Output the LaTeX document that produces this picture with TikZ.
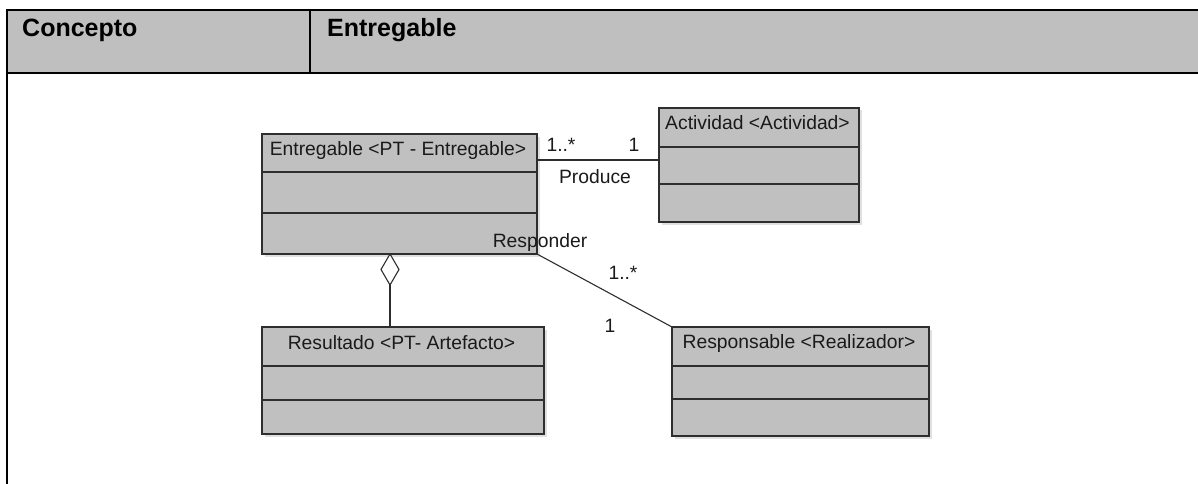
\documentclass[tikz,border=0pt]{standalone}
\usepackage{fontspec}
\setmainfont{Liberation Sans}
\usetikzlibrary{shapes.geometric,calc}

\definecolor{hdrgray}{HTML}{BFBFBF}
\definecolor{boxgray}{HTML}{C0C0C0}
\definecolor{edge}{HTML}{2E2E2E}
\definecolor{ink}{HTML}{1A1A1A}

\tikzset{
  tableline/.style={line width=2pt, black},
  classbox/.style={draw=edge, fill=boxgray, line width=1.3pt, inner sep=0pt, outer sep=0pt,
    anchor=north west},
  boxshadow/.style={fill=black!12, draw=none},
  sepline/.style={draw=edge, line width=1.3pt},
  classtitle/.style={font=\fontsize{19.3}{22}\selectfont, text=ink, inner sep=0pt, anchor=base},
  assoc/.style={draw=edge, line width=1.1pt},
  multlabel/.style={font=\fontsize{19.3}{22}\selectfont, text=ink, inner sep=0pt, anchor=base},
  headtext/.style={font=\fontsize{25}{29}\selectfont\bfseries, text=black, inner sep=0pt, anchor=base west},
  aggdiamond/.style={diamond, draw=edge, fill=white, line width=1.1pt, inner sep=0pt, outer sep=0pt,
    minimum width=18pt, minimum height=31pt, anchor=north},
}

% #1 name, #2 x, #3 y (top-left), #4 width, #5 height,
% #6 first divider offset, #7 second divider offset, #8 title, #9 title baseline offset
\newcommand\classbox[9]{%
  \fill[boxshadow] (#2+2.5,#3+2.5) rectangle (#2+#4+2.5,#3+#5+2.5);
  \node[classbox, minimum width=#4pt, minimum height=#5pt] (#1) at (#2,#3) {};
  \draw[sepline] ([yshift=-#6pt]#1.north west) -- ([yshift=-#6pt]#1.north east);
  \draw[sepline] ([yshift=-#7pt]#1.north west) -- ([yshift=-#7pt]#1.north east);
  \node[classtitle] (#1-title) at ([xshift=-1.5pt,yshift=-#9pt]#1.north) {#8};
}

\begin{document}
\begin{tikzpicture}[x=1pt,y=-1pt]
  \useasboundingbox (0,0) rectangle (1198,484);

  % table header row
  \fill[hdrgray] (7,10) rectangle (1200,73);
  \draw[tableline] (7,486) -- (7,10) -- (1200,10);
  \draw[tableline] (7,73) -- (1200,73);
  \draw[tableline] (310,10) -- (310,73);
  \node[headtext] (hdr-a) at (22,37) {Concepto};
  \node[headtext] (hdr-b) at (327,37) {Entregable};

  % classes
  \classbox{ent}{262}{134}{275}{120}{38}{79}{Entregable <PT - Entregable>}{21}
  \classbox{act}{659}{108}{200}{114}{39}{76}{Actividad <Actividad>}{21}
  \classbox{res}{262}{327}{282}{107}{39}{73}{Resultado <PT- Artefacto>}{22}
  \classbox{resp}{672}{327}{257}{109}{39}{72}{Responsable <Realizador>}{21}

  % Produce association
  \draw[assoc] ([yshift=-26pt]ent.north east) -- ([yshift=-52pt]act.north west);
  \node[multlabel] (prod-m1) at (561,151) {1..*};
  \node[multlabel] (prod-m2) at (634,151) {1};
  \node[multlabel] (prod-name) at (595,183) {Produce};

  % Responder association
  \draw[assoc] (ent.south east) -- (resp.north west);
  \node[multlabel] (resp-name) at (540,247) {Responder};
  \node[multlabel] (resp-m1) at (623,279) {1..*};
  \node[multlabel] (resp-m2) at (610,332) {1};

  % aggregation
  \node[aggdiamond] (agg) at ([xshift=-9.5pt]ent.south) {};
  \draw[assoc] (agg.south) -- (agg.south |- res.north);
\end{tikzpicture}
\end{document}
